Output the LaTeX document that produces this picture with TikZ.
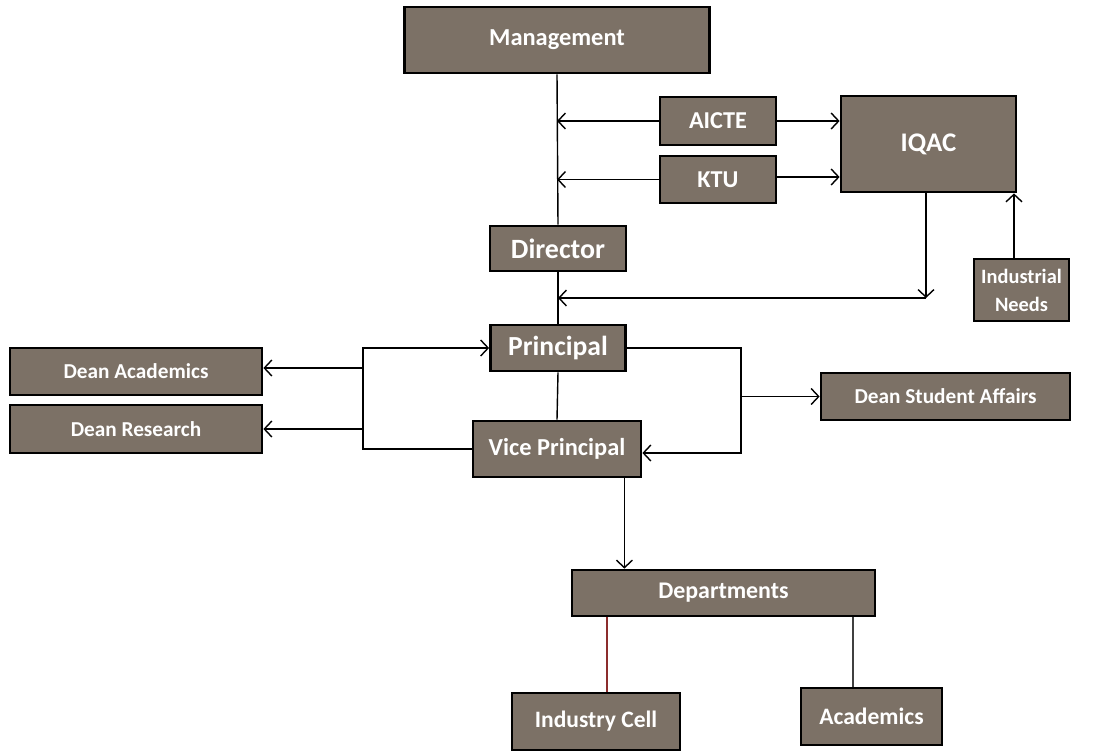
\documentclass[tikz,border=0pt]{standalone}
\usepackage{fontspec}
\setmainfont{Carlito}
\usepackage{xcolor}
\definecolor{boxfill}{RGB}{124,113,102}
\definecolor{cellred}{RGB}{140,45,45}
\usetikzlibrary{arrows.meta,positioning,calc}

\tikzset{
  orgbox/.style={draw=black, line width=1.6pt, fill=boxfill, text=white, inner sep=0pt, align=center, font=\bfseries},
  arr/.style={-{Straight Barb[length=1.5mm,width=3.2mm]}, line width=0.8pt},
  link/.style={line width=0.8pt}
}

\begin{document}
\begin{tikzpicture}[x=0.02cm, y=-0.02cm]
  \useasboundingbox (0,0) rectangle (1099,751);

  % top of the chart
  \node[orgbox, minimum width=6.1cm, minimum height=1.32cm, font=\bfseries\fontsize{13.9}{16}\selectfont] (mgmt) at (557,40) {Management};
  \node[orgbox, minimum width=2.72cm, minimum height=0.9cm, font=\bfseries\fontsize{15.9}{18}\selectfont] (director) at (558,248.5) {Director};
  \node[orgbox, minimum width=2.7cm, minimum height=0.92cm, font=\bfseries\fontsize{15.7}{18}\selectfont] (principal) at (558,348) {Principal};
  \node[orgbox, minimum width=3.36cm, minimum height=1.12cm, font=\bfseries\fontsize{13.9}{16}\selectfont] (vp) at (557,449) {Vice Principal};

  % bodies feeding in
  \node[orgbox, minimum width=2.32cm, minimum height=0.96cm, font=\bfseries\fontsize{13.8}{16}\selectfont] (aicte) at (718,121) {AICTE};
  \node[orgbox, minimum width=2.32cm, minimum height=0.94cm, font=\bfseries\fontsize{13.8}{16}\selectfont] (ktu) at (718,179.5) {KTU};
  \node[orgbox, minimum width=3.5cm, minimum height=1.92cm, font=\bfseries\fontsize{15.3}{18}\selectfont] (iqac) at (928.5,144) {IQAC};
  \node[orgbox, minimum width=1.9cm, minimum height=1.24cm, font=\bfseries\fontsize{11.6}{16}\selectfont] (indneeds) at (1021.5,290) {Industrial\\Needs};

  \draw[link] (mgmt.south) -- (director.north);
  \draw[link] (director.south) -- (principal.north);
  \draw[link] (principal.south) -- (vp.north);
  \draw[arr] (aicte.west) -- (aicte.west -| mgmt.south);
  \draw[arr] (ktu.west) -- (ktu.west -| mgmt.south);
  \draw[arr] (aicte.east) -- (aicte.east -| iqac.west);
  \draw[arr] ([yshift=0.05cm]ktu.east) -- ([yshift=0.05cm]ktu.east -| iqac.west);

  % feedback from IQAC
  \coordinate (fb) at (926,298);
  \draw[arr] (iqac.south -| fb) -- (fb);
  \draw[arr] (fb) -- (fb -| director.south);
  \draw[arr] ([xshift=-0.15cm]indneeds.north) -- ([xshift=-0.15cm]indneeds.north |- iqac.south);

  % deans
  \node[orgbox, minimum width=5.04cm, minimum height=0.94cm, font=\bfseries\fontsize{12.1}{14}\selectfont] (deanacad) at (136,371.5) {Dean Academics};
  \node[orgbox, minimum width=5.04cm, minimum height=0.96cm, font=\bfseries\fontsize{12.1}{14}\selectfont] (deanres) at (136,429) {Dean Research};
  \node[orgbox, minimum width=4.98cm, minimum height=0.94cm, font=\bfseries\fontsize{12.1}{14}\selectfont] (dsa) at (945.5,396.5) {Dean Student Affairs};

  \coordinate (lb) at (363,400);
  \coordinate (rb) at (741,400);
  \draw[arr] (vp.west) -- (vp.west -| lb) |- (principal.west);
  \draw[arr] ([yshift=0.07cm]deanacad.east -| lb) -- ([yshift=0.07cm]deanacad.east);
  \draw[arr] (deanres.east -| lb) -- (deanres.east);
  \draw[arr] (principal.east) -- (principal.east -| rb) |- ([yshift=-0.08cm]vp.east);
  \draw[arr] (dsa.west -| rb) -- (dsa.west);

  % departments
  \node[orgbox, minimum width=6.06cm, minimum height=0.92cm, font=\bfseries\fontsize{13.6}{16}\selectfont] (dept) at (723.5,593) {Departments};
  \node[orgbox, minimum width=3.36cm, minimum height=1.14cm, font=\bfseries\fontsize{13.4}{16}\selectfont] (indcell) at (596,721.5) {Industry Cell};
  \node[orgbox, minimum width=2.82cm, minimum height=1.14cm, font=\bfseries\fontsize{13.4}{16}\selectfont] (acad) at (871.5,716.5) {Academics};

  \draw[arr] ([xshift=-0.36cm]vp.south east) -- ([xshift=-0.36cm]vp.south east |- dept.north);
  \draw[link, cellred] ([xshift=0.22cm]indcell.north |- dept.south) -- ([xshift=0.22cm]indcell.north);
  \draw[link, black!75] ([xshift=-0.37cm]acad.north |- dept.south) -- ([xshift=-0.37cm]acad.north);
\end{tikzpicture}
\end{document}
